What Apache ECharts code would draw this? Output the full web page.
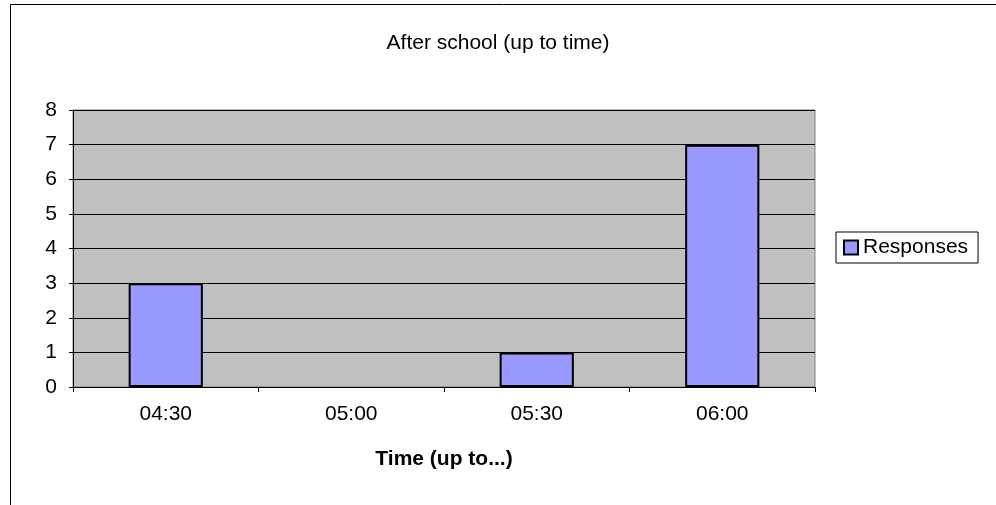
<!DOCTYPE html>
<html><head><meta charset="utf-8">
<script src="https://cdn.jsdelivr.net/npm/echarts@6/dist/echarts.min.js"></script>
<style>html,body{margin:0;padding:0;background:#fff}#c{width:996px;height:505px}</style>
</head><body><div id="c"></div>
<script>
var categories = ['04:30', '05:00', '05:30', '06:00'];
var responses = [3, 0, 1, 7];
var yTicks = [0, 1, 2, 3, 4, 5, 6, 7, 8];
var titleText = 'After school (up to time)';
var xName = 'Time (up to...)';
var seriesName = 'Responses';

var chart = echarts.init(document.getElementById('c'), null, {renderer: 'canvas'});
var font = 'Liberation Sans, Arial, sans-serif';
var fs = 21;
chart.setOption({
  animation: false,
  backgroundColor: '#fff',
  graphic: [{
    type: 'rect', shape: {x: 10.5, y: 4.5, width: 1000, height: 520},
    style: {fill: 'none', stroke: '#000', lineWidth: 1}, z: -1
  }],
  title: {
    text: titleText, left: 'center', top: 28,
    textStyle: {fontFamily: font, fontSize: fs, fontWeight: 'normal', color: '#000'}
  },
  legend: {
    left: 836, top: 232, orient: 'vertical',
    data: [seriesName],
    itemWidth: 14, itemHeight: 14, itemGap: 0,
    icon: 'rect',
    borderColor: '#000', borderWidth: 1, padding: [5, 10, 5, 7],
    textStyle: {fontFamily: font, fontSize: fs, color: '#000'},
    itemStyle: {borderColor: '#000', borderWidth: 2}
  },
  grid: {
    left: 73, top: 110, right: 181, bottom: 118,
    show: true, backgroundColor: '#c0c0c0', borderColor: '#808080', borderWidth: 1,
    containLabel: false
  },
  xAxis: {
    type: 'category', data: categories,
    name: xName, nameLocation: 'middle', nameGap: 62,
    nameTextStyle: {fontFamily: font, fontSize: fs, fontWeight: 'bold', color: '#000'},
    axisLine: {lineStyle: {color: '#000'}},
    axisTick: {show: true, length: 5, lineStyle: {color: '#000'}},
    axisLabel: {fontFamily: font, fontSize: fs, color: '#000', margin: 17}
  },
  yAxis: {
    type: 'value', min: 0, max: 8, interval: 1,
    axisLine: {show: true, lineStyle: {color: '#000'}},
    axisTick: {show: true, length: 4, lineStyle: {color: '#000'}},
    axisLabel: {fontFamily: font, fontSize: fs, color: '#000', margin: 16,
      formatter: function (v) { return yTicks.indexOf(v) >= 0 ? String(v) : ''; }},
    splitLine: {show: true, lineStyle: {color: '#000', width: 1}}
  },
  series: [{
    name: seriesName, type: 'bar',
    data: responses.map(function (v) {
      return v === 0 ? {value: v, itemStyle: {borderWidth: 0}} : v;
    }),
    barWidth: '40%',
    itemStyle: {color: '#9999ff', borderColor: '#000', borderWidth: 2}
  }]
});
</script></body></html>
